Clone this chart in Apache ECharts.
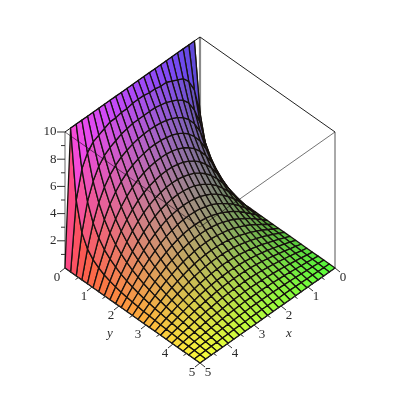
<!DOCTYPE html>
<html><head><meta charset="utf-8">
<style>html,body{margin:0;padding:0;background:#fff}#c{width:400px;height:400px}</style>
<script src="https://cdn.jsdelivr.net/npm/echarts@6/dist/echarts.min.js"></script>
</head><body><div id="c"></div>
<script>
const gridX=[0,0.208,0.417,0.625,0.833,1.042,1.25,1.458,1.667,1.875,2.083,2.292,2.5,2.708,2.917,3.125,3.333,3.542,3.75,3.958,4.167,4.375,4.583,4.792,5];
const gridY=[0,0.208,0.417,0.625,0.833,1.042,1.25,1.458,1.667,1.875,2.083,2.292,2.5,2.708,2.917,3.125,3.333,3.542,3.75,3.958,4.167,4.375,4.583,4.792,5];
const zRows=[
[0,10,10,10,10,10,10,10,10,10,10,10,10,10,10,10,10,10,10,10,10,10,10,10,0],
[0,5.0,7.0,7.9,8.4,8.6,8.8,9.0,9.0,9.1,9.1,9.2,9.2,9.2,9.1,9.1,9.0,9.0,8.8,8.6,8.4,7.9,7.0,5.0,0],
[0,2.9,4.9,6.1,6.9,7.4,7.7,7.9,8.1,8.2,8.3,8.3,8.3,8.3,8.3,8.2,8.1,7.9,7.7,7.4,6.9,6.1,4.9,2.9,0],
[0,1.99,3.62,4.82,5.67,6.27,6.69,7.0,7.2,7.36,7.47,7.52,7.55,7.52,7.47,7.36,7.2,7.0,6.69,6.27,5.67,4.82,3.62,1.99,0],
[0,1.49,2.80,3.87,4.70,5.31,5.78,6.14,6.39,6.57,6.68,6.76,6.78,6.76,6.68,6.57,6.39,6.14,5.78,5.31,4.70,3.87,2.80,1.49,0],
[0,1.17,2.23,3.17,3.92,4.52,5.0,5.36,5.64,5.84,5.97,6.05,6.07,6.05,5.97,5.84,5.64,5.36,5.0,4.52,3.92,3.17,2.23,1.17,0],
[0,.94,1.83,2.62,3.30,3.86,4.31,4.68,4.95,5.16,5.29,5.38,5.40,5.38,5.29,5.16,4.95,4.68,4.31,3.86,3.30,2.62,1.83,.94,0],
[0,.78,1.53,2.20,2.80,3.31,3.73,4.08,4.35,4.54,4.68,4.77,4.79,4.77,4.68,4.54,4.35,4.08,3.73,3.31,2.80,2.20,1.53,.78,0],
[0,.65,1.28,1.87,2.39,2.85,3.24,3.55,3.81,4.01,4.13,4.21,4.24,4.21,4.13,4.01,3.81,3.55,3.24,2.85,2.39,1.87,1.28,.65,0],
[0,.55,1.09,1.59,2.05,2.46,2.81,3.10,3.33,3.52,3.63,3.71,3.73,3.71,3.63,3.52,3.33,3.10,2.81,2.46,2.05,1.59,1.09,.55,0],
[0,.47,.93,1.37,1.77,2.12,2.43,2.70,2.91,3.06,3.19,3.25,3.28,3.25,3.19,3.06,2.91,2.70,2.43,2.12,1.77,1.37,.93,.47,0],
[0,.41,.80,1.17,1.52,1.83,2.10,2.33,2.53,2.68,2.79,2.85,2.87,2.85,2.79,2.68,2.53,2.33,2.10,1.83,1.52,1.17,.80,.41,0],
[0,.35,.68,1.01,1.31,1.57,1.82,2.02,2.20,2.33,2.42,2.48,2.50,2.48,2.42,2.33,2.20,2.02,1.82,1.57,1.31,1.01,.68,.35,0],
[0,.29,.59,.86,1.13,1.36,1.57,1.75,1.90,2.01,2.10,2.16,2.17,2.16,2.10,2.01,1.90,1.75,1.57,1.36,1.13,.86,.59,.29,0],
[0,.25,.50,.74,.97,1.17,1.35,1.51,1.64,1.75,1.82,1.86,1.88,1.86,1.82,1.75,1.64,1.51,1.35,1.17,.97,.74,.50,.25,0],
[0,.22,.43,.63,.83,1.00,1.15,1.29,1.41,1.50,1.56,1.60,1.61,1.60,1.56,1.50,1.41,1.29,1.15,1.00,.83,.63,.43,.22,0],
[0,.18,.36,.53,.69,.84,.97,1.09,1.19,1.27,1.33,1.37,1.38,1.37,1.33,1.27,1.19,1.09,.97,.84,.69,.53,.36,.18,0],
[0,.15,.30,.44,.58,.71,.82,.92,1.00,1.07,1.12,1.15,1.16,1.15,1.12,1.07,1.00,.92,.82,.71,.58,.44,.30,.15,0],
[0,.13,.25,.37,.48,.58,.68,.76,.83,.89,.93,.95,.96,.95,.93,.89,.83,.76,.68,.58,.48,.37,.25,.13,0],
[0,.10,.20,.30,.39,.47,.55,.61,.67,.72,.75,.77,.77,.77,.75,.72,.67,.61,.55,.47,.39,.30,.20,.10,0],
[0,.08,.16,.23,.30,.37,.43,.48,.52,.56,.58,.60,.60,.60,.58,.56,.52,.48,.43,.37,.30,.23,.16,.08,0],
[0,.06,.12,.17,.22,.27,.31,.35,.39,.41,.43,.44,.44,.44,.43,.41,.39,.35,.31,.27,.22,.17,.12,.06,0],
[0,.04,.08,.11,.15,.18,.21,.23,.25,.27,.28,.29,.29,.29,.28,.27,.25,.23,.21,.18,.15,.11,.08,.04,0],
[0,.02,.04,.06,.07,.09,.10,.12,.13,.13,.14,.14,.15,.14,.14,.13,.13,.12,.10,.09,.07,.06,.04,.02,0],
[0,0,0,0,0,0,0,0,0,0,0,0,0,0,0,0,0,0,0,0,0,0,0,0,0]
];
const xTicks=[0,1,2,3,4,5], yTicks=[0,1,2,3,4,5], zTicks=[2,4,6,8,10];
const xMinor=[0.5,1.5,2.5,3.5,4.5], yMinor=[0.5,1.5,2.5,3.5,4.5], zMinor=[1,3,5,7,9];
const xTitle='x', yTitle='y';

// Oblique view of the box: the library's axes map the two view coordinates to pixels.
const Z_SCALE=0.716;
const view=(x,y,z)=>[y-x,x+y-z*Z_SCALE];

const cells=[];
for(let j=0;j<gridY.length-1;j++)for(let i=0;i<gridX.length-1;i++){
  const corners=[[i,j],[i+1,j],[i+1,j+1],[i,j+1]].map(([a,b])=>[gridX[a],gridY[b],zRows[b][a]]);
  const m=[0,1,2].map(k=>corners.reduce((s,c)=>s+c[k],0)/4);
  cells.push({corners,m,depth:0.502*(m[0]+m[1])+0.355*m[2]});
}
cells.sort((a,b)=>a.depth-b.depth);
const shade=m=>`rgb(${Math.round(85+170*m[0]/5)},${Math.round(70+185*m[1]/5)},${Math.round(60+195*m[2]/10)})`;

const backEdges=[
 {a:[0,0,0],b:[0,0,10],c:'#8a8a8a',w:2.2},
 {a:[0,5,0],b:[0,5,10],c:'#555',w:1},
 {a:[0,0,10],b:[0,5,10],c:'#222',w:1},
 {a:[5,0,0],b:[5,0,10],c:'#666',w:1}
];
const frontEdges=[
 {a:[5,0,10],b:[0,0,10],c:'#111',w:1},
 {a:[5,0,10],b:[5,5,10],c:'rgba(20,10,20,.75)',w:0.8},
 {a:[0,5,10],b:[5,5,10],c:'rgba(20,20,20,.75)',w:0.8},
 {a:[5,0,0],b:[5,5,0],c:'#222',w:1},
 {a:[0,5,0],b:[5,5,0],c:'#222',w:1}
];
const lineItem=(api,e)=>{
  const p=api.coord(view(...e.a)),q=api.coord(view(...e.b));
  return {type:'line',silent:true,shape:{x1:p[0],y1:p[1],x2:q[0],y2:q[1]},style:{stroke:e.c,lineWidth:e.w}};
};
const edgeSeries=(edges,z)=>({type:'custom',coordinateSystem:'cartesian2d',z,silent:true,clip:false,animation:false,
  data:edges.map((e,k)=>[k]),encode:{x:0,y:0},
  renderItem:(p,api)=>lineItem(api,edges[p.dataIndex])});

const marks=[];
yTicks.forEach(t=>marks.push({p:[5,t,0],d:[-5,4],label:String(t),o:[-8,9.7]}));
yMinor.forEach(t=>marks.push({p:[5,t,0],d:[-3,2]}));
xTicks.forEach(t=>marks.push({p:[t,5,0],d:[5,4],label:String(t),o:[8,9.7]}));
xMinor.forEach(t=>marks.push({p:[t,5,0],d:[3,2]}));
zTicks.forEach(t=>marks.push({p:[5,0,t],d:[-8,0],label:String(t),o:[-8.5,0],right:true}));
zMinor.forEach(t=>marks.push({p:[5,0,t],d:[-4,0]}));
const txt=(x,y,text,align,italic)=>({type:'text',silent:true,x,y,style:{text,x:0,y:0,fill:'#2a2a2a',
  font:(italic?'italic ':'')+'13px "Liberation Serif"',align:align||'center',verticalAlign:'middle'}});

const titles=[{p:[2,5,0],t:xTitle,o:[8,28]},{p:[5,2,0],t:yTitle,o:[-9,28]}];

const chart=echarts.init(document.getElementById('c'),null,{renderer:'canvas'});
chart.setOption({
  animation:false,backgroundColor:'#fff',
  grid:{left:65,right:65,top:37,bottom:37},
  xAxis:{type:'value',min:-5,max:5,show:false},
  yAxis:{type:'value',min:-7.16,max:10,inverse:true,show:false},
  series:[
    edgeSeries(backEdges,1),
    {type:'custom',coordinateSystem:'cartesian2d',z:2,silent:true,clip:false,animation:false,
     data:cells.map((c,k)=>[k]),encode:{x:0,y:0},
     renderItem:(p,api)=>{const c=cells[p.dataIndex];
       return {type:'polygon',silent:true,shape:{points:c.corners.map(q=>api.coord(view(...q)))},
         style:{fill:shade(c.m),stroke:'#17120f',lineWidth:1.3,lineJoin:'round'}};}},
    edgeSeries(frontEdges,3),
    {type:'custom',coordinateSystem:'cartesian2d',z:4,silent:true,clip:false,animation:false,
     data:marks.map((m,k)=>[k]),encode:{x:0,y:0},
     renderItem:(p,api)=>{const m=marks[p.dataIndex],a=api.coord(view(...m.p));
       const kids=[{type:'line',silent:true,shape:{x1:a[0],y1:a[1],x2:a[0]+m.d[0],y2:a[1]+m.d[1]},style:{stroke:'#333',lineWidth:1}}];
       if(m.label)kids.push(txt(a[0]+m.o[0],a[1]+m.o[1],m.label,m.right?'right':'center'));
       return {type:'group',silent:true,children:kids};}},
    {type:'custom',coordinateSystem:'cartesian2d',z:4,silent:true,clip:false,animation:false,
     data:titles.map((m,k)=>[k]),encode:{x:0,y:0},
     renderItem:(p,api)=>{const m=titles[p.dataIndex],a=api.coord(view(...m.p));
       return txt(a[0]+m.o[0],a[1]+m.o[1],m.t,'center',true);}}
  ]
});
</script></body></html>
